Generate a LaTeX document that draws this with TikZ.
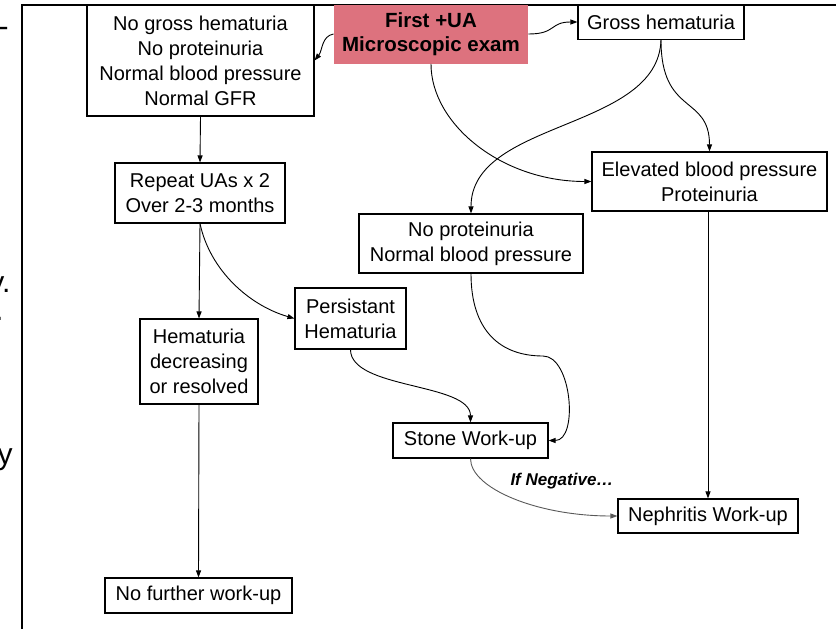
\documentclass[tikz,border=0pt]{standalone}
\usepackage{fontspec}
\setmainfont{Liberation Sans}
\usetikzlibrary{arrows.meta,calc}

\definecolor{uared}{RGB}{221,114,126}

\tikzset{every picture/.style={line width=0.9pt},
  box/.style={draw, line width=1.1pt, align=center, inner sep=2pt, font=\fontsize{20}{25}\selectfont},
  startbox/.style={fill=uared, align=center, inner sep=2pt, font=\bfseries\fontsize{20.5}{24}\selectfont},
  link/.style={-{Triangle[length=7pt,width=5pt]}, line width=0.9pt},
  stray/.style={anchor=base east, inner sep=0pt, font=\fontsize{30}{30}\selectfont}}

\begin{document}
\begin{tikzpicture}[x=1pt,y=1pt,yscale=-1]
\useasboundingbox (0,0) rectangle (836,629);

% frame
\draw [line width=1.2pt] (22,629) -- (22,5) -- (836,5);

% cut-off letters from the next column
\node [stray] (s1) at (9,36) {-};
\node [stray] (s2) at (11,292) {y.};
\node [stray] (s3) at (4,320) {.};
\node [stray] (s4) at (13,464) {y};

% boxes
\node [startbox, minimum width=194pt, minimum height=59pt] (ua) at (431,34) {First +UA\\Microscopic exam};
\node [box, minimum width=227pt, minimum height=111pt] (nogross) at (200.5,60.5) {No gross hematuria\\No proteinuria\\Normal blood pressure\\Normal GFR};
\node [box, minimum width=166pt, minimum height=35pt] (gross) at (661,22) {Gross hematuria};
\node [box, minimum width=235pt, minimum height=59pt] (elev) at (709.5,181.5) {Elevated blood pressure\\Proteinuria};
\node [box, minimum width=224pt, minimum height=59pt] (noprot) at (471,243.5) {No proteinuria\\Normal blood pressure};
\node [box, minimum width=170pt, minimum height=60pt] (repeat) at (200,193) {Repeat UAs x 2\\Over 2-3 months};
\node [box, minimum width=111pt, minimum height=61pt] (persist) at (350.5,318.5) {Persistant\\Hematuria};
\node [box, minimum width=118pt, minimum height=85pt] (decr) at (199,361.5) {Hematuria\\decreasing\\or resolved};
\node [box, minimum width=187pt, minimum height=35pt] (nofurther) at (198.5,595.5) {No further work-up};
\node [box, minimum width=155pt, minimum height=35pt] (stone) at (470.5,440.5) {Stone Work-up};
\node [box, minimum width=180pt, minimum height=34pt] (nephr) at (708,516) {Nephritis Work-up};
\node [inner sep=0pt, font=\bfseries\itshape\fontsize{17}{20}\selectfont] (ifneg) at (562,481) {If Negative\dots};

\coordinate (swing) at (543,356);

% connectors
\draw [link] (ua.west) .. controls +(-12,2) and +(8,-10) .. (nogross.east);
\draw [link] (ua.east) .. controls +(28,0) and +(-28,0) .. (gross.west);
\draw [link] (ua.south) .. controls +(0,60) and +(-90,0) .. (elev.west);
\draw [link] (gross.south) .. controls +(-3,91) and +(0,-94) .. (noprot.north);
\draw [link] (gross.south) .. controls +(0,76) and +(0,-57) .. (elev.north);
\draw [link] (nogross.south) -- (repeat.north);
\draw [link] (repeat.south) -- (decr.north);
\draw [link] (repeat.south) .. controls +(10,47) and +(-45,-13) .. (persist.west);
\draw [link] (decr.south) -- (nofurther.north);
\draw [link] (persist.south) .. controls +(0,40) and +(0,-40) .. (stone.north);
\draw [link] (noprot.south) .. controls +(0,57) and +(-43,0) .. (swing) .. controls +(29,0) and +(30,0) .. (stone.east);
\draw [link] (elev.south -| nephr.north) -- (nephr.north);
\draw [link, black!65] (stone.south) .. controls +(0,30) and +(-80,0) .. (nephr.west);

\end{tikzpicture}
\end{document}
